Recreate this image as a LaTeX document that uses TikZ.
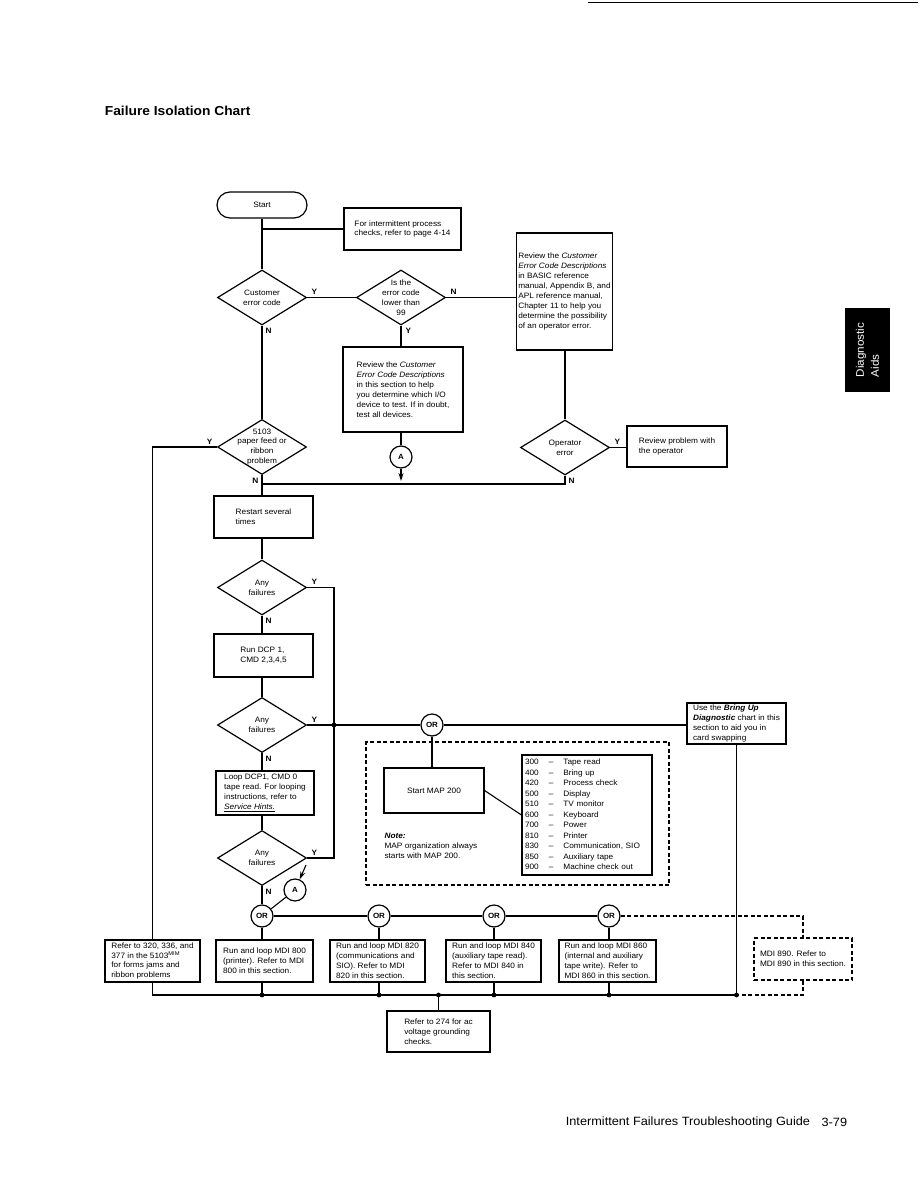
\documentclass[tikz,border=0pt]{standalone}
\usepackage{fontspec}
\setmainfont{Liberation Sans}[FakeStretch=1.06]
\usetikzlibrary{arrows.meta, positioning, shapes.geometric}

\begin{document}
\begin{tikzpicture}[
  x=1pt, y=-1pt,
  line width=1.1pt,
  every node/.style={font=\fontsize{7.8}{9.9}\selectfont},
  terminal/.style={draw, line width=1.2pt, rounded corners=13pt, minimum width=90pt, minimum height=26pt},
  box/.style={draw, line width=1.2pt, align=left, inner sep=1.5pt},
  decision/.style={draw, line width=1.2pt, diamond, minimum width=89pt, minimum height=55pt, inner sep=0pt,
    label={[align=center]center:{#1}}},
  conn/.style={draw, line width=1.2pt, circle, minimum size=22pt, inner sep=0pt, font=\fontsize{7.5}{9}\selectfont\bfseries},
  yn/.style={font=\fontsize{7.8}{9}\selectfont\bfseries, inner sep=1pt},
  arr/.style={-{Stealth[length=8pt, width=5pt]}},
  dashline/.style={dash pattern=on 4pt off 2.5pt}
]
\useasboundingbox (0,0) rectangle (918,1188);

% page furniture
\draw[line width=0.6pt] (588,2) -- (918,2);
\node[anchor=west, font=\fontsize{13}{15}\selectfont\bfseries] (title) at (101,111) {Failure Isolation Chart};
\node[fill=black, text=white, rotate=90, minimum width=84pt, minimum height=45pt, align=left,
  font=\fontsize{11}{15}\selectfont] (tab) at (867.5,350) {Diagnostic\\Aids};
\node[anchor=west, font=\fontsize{12}{14}\selectfont] (guide) at (562,1122) {Intermittent Failures Troubleshooting Guide};
\node[anchor=east, font=\fontsize{12}{14}\selectfont] (pgno) at (851,1122) {3-79};

% top part
\node[terminal] (start) at (262,205) {Start};
\node[box, minimum width=117pt, minimum height=42pt] (intchk) at (402.5,229)
  {For intermittent process\\checks, refer to page 4-14};
\node[decision={Customer\\error code}] (cerr) at (262,297.5) {};
\node[decision={Is the\\error code\\lower than\\99}] (lt99) at (401,297.5) {};
\node[box, minimum width=95pt, minimum height=117pt] (revbasic) at (564.5,291.5)
  {Review the \textit{Customer}\\\textit{Error Code Descriptions}\\in BASIC reference\\manual, Appendix B, and\\APL reference manual,\\Chapter 11 to help you\\determine the possibility\\of an operator error.};
\node[box, minimum width=120pt, minimum height=85pt] (revsec) at (403,389.5)
  {Review the \textit{Customer}\\\textit{Error Code Descriptions}\\in this section to help\\you determine which I/O\\device to test.  If in doubt,\\test all devices.};
\node[conn] (conA) at (401,457) {A};
\coordinate (aTail) at (401,481);
\node[decision={5103\\paper feed or\\ribbon\\problem}] (p5103) at (262,447) {};
\node[decision={Operator\\error}] (operr) at (565,447.5) {};
\node[box, minimum width=100pt, minimum height=41pt] (revop) at (677,446.5)
  {Review problem with\\the operator};
\coordinate (nmerge) at (262,484);

\draw (start.south) -- (cerr.north);
\draw (start.south |- intchk.west) -- (intchk.west);
\draw (cerr.east) -- (lt99.west);
\node[yn, above right=1pt and 3pt of cerr.east] {Y};
\draw (lt99.east) -- (lt99.east -| revbasic.west);
\node[yn, above right=1pt and 3pt of lt99.east] {N};
\draw (lt99.south) -- (lt99.south |- revsec.north);
\node[yn, below right=1pt and 3pt of lt99.south] {Y};
\draw (conA.north |- revsec.south) -- (conA.north);
\draw[arr] (conA.south) -- (aTail);
\draw (cerr.south) -- (p5103.north);
\node[yn, below right=1pt and 2pt of cerr.south] {N};
\draw (operr.north |- revbasic.south) -- (operr.north);
\draw (operr.east) -- (operr.east -| revop.west);
\node[yn, above right=1pt and 3pt of operr.east] {Y};
\draw (operr.south) |- (nmerge);
\node[yn, below right=1pt and 2pt of operr.south] {N};
\node[yn, above left=1pt and 3pt of p5103.west] {Y};
\node[yn, below left=1pt and 2pt of p5103.south] {N};

% middle column
\node[box, minimum width=99pt, minimum height=42pt] (restart) at (263.5,517)
  {Restart several\\times};
\node[decision={Any\\failures}] (fail1) at (262,587.5) {};
\node[box, minimum width=99pt, minimum height=43pt] (rundcp) at (263.5,655.5)
  {Run DCP 1,\\CMD 2,3,4,5};
\node[decision={Any\\failures}] (fail2) at (262,725) {};
\node[box, minimum width=98pt, minimum height=44pt] (loopdcp) at (265,793)
  {Loop DCP1, CMD 0\\tape read.  For looping\\instructions, refer to\\\underline{\textit{Service Hints.}}};
\node[decision={Any\\failures}] (fail3) at (262,858) {};
\coordinate (rail) at (334,725);

\draw (p5103.south) -- (p5103.south |- restart.north);
\draw (fail1.north |- restart.south) -- (fail1.north);
\draw (fail1.south) -- (fail1.south |- rundcp.north);
\node[yn, below right=1pt and 2pt of fail1.south] {N};
\draw (fail2.north |- rundcp.south) -- (fail2.north);
\draw (fail2.south) -- (fail2.south |- loopdcp.north);
\node[yn, below right=1pt and 2pt of fail2.south] {N};
\draw (fail3.north |- loopdcp.south) -- (fail3.north);
\draw (fail1.east) -| (rail) |- (fail3.east);
\node[yn, above right=1pt and 3pt of fail1.east] {Y};
\node[yn, above right=1pt and 3pt of fail2.east] {Y};
\node[yn, above right=1pt and 3pt of fail3.east] {Y};

% MAP block
\node[draw, dashline, minimum width=303pt, minimum height=143pt] (mapframe) at (517.5,813.5) {};
\node[conn] (orTop) at (432,725) {OR};
\node[box, minimum width=100pt, minimum height=45pt, align=center] (startmap) at (434,790.5) {Start MAP 200};
\node[box, minimum width=130pt, minimum height=120pt, text width=124pt] (maplist) at (587,815)
  {\renewcommand{\arraystretch}{1.06}%
   \begin{tabular}{@{}l@{\hspace{10pt}}l@{\hspace{10pt}}l@{}}
   300 & -- & Tape read\\
   400 & -- & Bring up\\
   420 & -- & Process check\\
   500 & -- & Display\\
   510 & -- & TV monitor\\
   600 & -- & Keyboard\\
   700 & -- & Power\\
   810 & -- & Printer\\
   830 & -- & Communication, SIO\\
   850 & -- & Auxiliary tape\\
   900 & -- & Machine check out
   \end{tabular}};
\node[anchor=north west, align=left, inner sep=0pt] (mapnote) at (384,833)
  {\textbf{\textit{Note:}}\\MAP organization always\\starts with MAP 200.};
\node[box, minimum width=99pt, minimum height=41pt] (usebu) at (736.5,723.5)
  {Use the \textbf{\textit{Bring Up}}\\\textbf{\textit{Diagnostic}} chart in this\\section to aid you in\\card swapping};

\draw (fail2.east) -- (orTop.west);
\fill (rail) circle (2.4pt);
\draw (orTop.east) -- (orTop.east -| usebu.west);
\draw (orTop.south) -- (orTop.south |- startmap.north);
\draw (startmap.east) -- (maplist.west);

% bottom row
\node[conn] (conAb) at (295,890) {A};
\coordinate (aHead) at (306,865);
\node[conn] (or1) at (262,916) {OR};
\node[conn] (or2) at (379,916) {OR};
\node[conn] (or3) at (494,916) {OR};
\node[conn] (or4) at (609,916) {OR};
\node[box, minimum width=95pt, minimum height=42pt] (ref5103) at (152.5,961)
  {Refer to 320, 336, and\\377 in the 5103\textsuperscript{MIM}\\for forms jams and\\ribbon problems};
\node[box, minimum width=97pt, minimum height=42pt] (mdi800) at (264.5,961)
  {Run and loop MDI 800\\(printer).  Refer to MDI\\800 in this section.};
\node[box, minimum width=95pt, minimum height=42pt] (mdi820) at (377.5,961)
  {Run and loop MDI 820\\(communications and\\SIO).  Refer to MDI\\820 in this section.};
\node[box, minimum width=95pt, minimum height=42pt] (mdi840) at (493.5,961)
  {Run and loop MDI 840\\(auxiliary tape read).\\Refer to MDI 840 in\\this section.};
\node[box, minimum width=97pt, minimum height=42pt] (mdi860) at (607.5,961)
  {Run and loop MDI 860\\(internal and auxiliary\\tape write).  Refer to\\MDI 860 in this section.};
\node[box, dashline, minimum width=98pt, minimum height=42pt] (mdi890) at (803,959)
  {MDI 890.  Refer to\\MDI 890 in this section.};
\node[box, minimum width=103pt, minimum height=41pt] (ref274) at (438.5,1031.5)
  {Refer to 274 for ac\\voltage grounding\\checks.};
\coordinate (bus) at (0,995);

\draw[arr] (aHead) -- (conAb);
\draw (fail3.south) -- (or1.north);
\node[yn, below right=1pt and 2pt of fail3.south] {N};
\draw (conAb) -- (or1);
\draw (or1.east) -- (or2.west);
\draw (or2.east) -- (or3.west);
\draw (or3.east) -- (or4.west);
\draw[dashline] (or4.east) -| (mdi890.north);
\draw (p5103.west) -| (ref5103.north);
\draw (or1.south) -- (or1.south |- mdi800.north);
\draw (or2.south) -- (or2.south |- mdi820.north);
\draw (or3.south) -- (or3.south |- mdi840.north);
\draw (or4.south) -- (or4.south |- mdi860.north);
\draw (ref5103.south) |- (usebu.south |- bus);
\draw (usebu.south) -- (usebu.south |- bus);
\draw[dashline] (mdi890.south) |- (usebu.south |- bus);
\draw (or1.south |- mdi800.south) -- (or1.south |- bus);
\draw (or2.south |- mdi820.south) -- (or2.south |- bus);
\draw (or3.south |- mdi840.south) -- (or3.south |- bus);
\draw (or4.south |- mdi860.south) -- (or4.south |- bus);
\draw (ref274.north) -- (ref274.north |- bus);
\foreach \b in {or1, or2, or3, or4, ref274, usebu}
  \fill (\b.center |- bus) circle (2.4pt);
\end{tikzpicture}
\end{document}
